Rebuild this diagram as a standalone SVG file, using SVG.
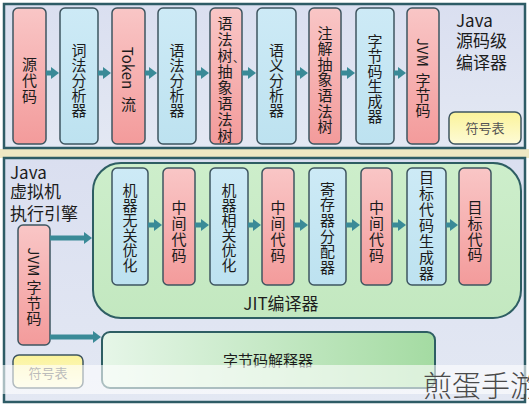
<svg xmlns="http://www.w3.org/2000/svg" width="529" height="406" viewBox="0 0 529 406">
<defs>
<linearGradient id="gPink" x1="0" y1="0" x2="0" y2="1"><stop offset="0" stop-color="#f9c6c6"/><stop offset="1" stop-color="#f39b9b"/></linearGradient>
<linearGradient id="gBlue" x1="0" y1="0" x2="0" y2="1"><stop offset="0" stop-color="#cdeaf6"/><stop offset="1" stop-color="#bde2f0"/></linearGradient>
<linearGradient id="gPanel" x1="0" y1="0" x2="0" y2="1"><stop offset="0" stop-color="#dadff0"/><stop offset="1" stop-color="#e3e8f3"/></linearGradient>
<linearGradient id="gYellow" x1="0" y1="0" x2="0" y2="1"><stop offset="0" stop-color="#fbf39a"/><stop offset="1" stop-color="#fdfbd6"/></linearGradient>
<linearGradient id="gJit" x1="0" y1="0" x2="0" y2="1"><stop offset="0" stop-color="#cdeecb"/><stop offset="1" stop-color="#c3e8c0"/></linearGradient>
<linearGradient id="gInterp" x1="0" y1="0" x2="1" y2="0"><stop offset="0" stop-color="#e6f6e8"/><stop offset="1" stop-color="#a4dba2"/></linearGradient>
<marker id="ah" markerUnits="userSpaceOnUse" markerWidth="9" markerHeight="12" refX="2" refY="6" orient="auto"><path d="M0,0 L8,6 L0,12 Z" fill="#3a8a97"/></marker>
<style>
.pink{fill:url(#gPink);stroke:#3e5560;stroke-width:1.5}
.blue{fill:url(#gBlue);stroke:#3e5560;stroke-width:1.5}
.panel{fill:url(#gPanel);stroke:#2e5c66;stroke-width:2.5}
.yel{fill:url(#gYellow);stroke:#3e5560;stroke-width:1.5}
.t{font-family:"Noto Sans CJK SC","Noto Sans",sans-serif;font-size:15px;fill:#1c1c1c;text-anchor:middle}
.v{font-family:"Noto Sans CJK SC","Noto Sans",sans-serif;font-size:15px;fill:#1c1c1c;writing-mode:vertical-rl;text-anchor:middle}
.tl{font-family:"Noto Sans CJK SC","Noto Sans",sans-serif;font-size:17px;fill:#1c1c1c}
.small{font-family:"Noto Sans CJK SC","Noto Sans",sans-serif;font-size:13px;fill:#555;text-anchor:middle}
.arr{stroke:#3a8a97;stroke-width:5;fill:none;marker-end:url(#ah)}
</style>
</defs>
<rect x="0" y="0" width="529" height="406" fill="#ffffff"/>
<rect x="0" y="149" width="529" height="9" fill="#efe7c3"/>

<g id="panel-compiler">
<rect class="panel" x="4" y="4" width="521" height="144"/>
<text class="tl" x="456" y="27">Java</text>
<text class="tl" x="456" y="47" font-size="16">源码级</text>
<text class="tl" x="456" y="69" font-size="16">编译器</text>
</g>

<g id="panel-engine">
<rect class="panel" x="4" y="158" width="521" height="244"/>
<text class="tl" x="10" y="179">Java</text>
<text class="tl" x="10" y="198">虚拟机</text>
<text class="tl" x="10" y="220">执行引擎</text>
</g>

<g id="src">
<rect class="pink" x="13" y="8" width="33" height="136" rx="5"/>
<text class="v" x="29.5" y="81" font-size="16.5" letter-spacing="1">源代码</text>
</g>
<g id="lexer">
<rect class="blue" x="60" y="8" width="38" height="136" rx="5"/>
<text class="v" x="79" y="80.5">词法分析器</text>
</g>
<g id="token">
<rect class="pink" x="112" y="8" width="33" height="136" rx="5"/>
<text class="v" x="128.5" y="68">Token</text>
<text class="v" x="128.5" y="104.5">流</text>
</g>
<g id="parser">
<rect class="blue" x="158" y="8" width="38" height="136" rx="5"/>
<text class="v" x="177" y="80.5">语法分析器</text>
</g>
<g id="ast">
<rect class="pink" x="210" y="8" width="32" height="136" rx="5"/>
<text class="v" x="225" y="79.5" letter-spacing="1">语法树抽象语法树</text>
<text x="233" y="62" font-family="'Noto Sans CJK SC',sans-serif" font-size="11" fill="#1c1c1c">、</text>
</g>
<g id="semantic">
<rect class="blue" x="257" y="8" width="39" height="136" rx="5"/>
<text class="v" x="276.5" y="80.5">语义分析器</text>
</g>
<g id="annotated-ast">
<rect class="pink" x="309" y="8" width="32" height="136" rx="5"/>
<text class="v" x="325" y="80" letter-spacing="0.6">注解抽象语法树</text>
</g>
<g id="codegen">
<rect class="blue" x="356" y="8" width="38" height="136" rx="5"/>
<text class="v" x="375" y="79">字节码生成器</text>
</g>
<g id="bytecode-top">
<rect class="pink" x="407" y="8" width="32" height="136" rx="5"/>
<text class="v" x="423" y="52.5">JVM</text>
<text class="v" x="423" y="95">字节码</text>
</g>
<g id="symtab-top">
<rect class="yel" x="449" y="112" width="72" height="32" rx="6"/>
<text class="small" x="485" y="133">符号表</text>
</g>

<g id="jit">
<rect x="93" y="163" width="428" height="155" rx="28" fill="url(#gJit)" stroke="#2e5e63" stroke-width="2"/>
<text class="tl" x="281" y="310" text-anchor="middle">JIT编译器</text>
</g>
<g id="opt-indep">
<rect class="blue" x="112" y="168" width="36" height="117" rx="5"/>
<text class="v" x="130" y="228">机器无关优化</text>
</g>
<g id="ir1">
<rect class="pink" x="163" y="168" width="32" height="117" rx="5"/>
<text class="v" x="179" y="232" letter-spacing="1.2">中间代码</text>
</g>
<g id="opt-dep">
<rect class="blue" x="210" y="168" width="38" height="117" rx="5"/>
<text class="v" x="229" y="228">机器相关优化</text>
</g>
<g id="ir2">
<rect class="pink" x="262" y="168" width="32" height="117" rx="5"/>
<text class="v" x="278" y="232" letter-spacing="1.2">中间代码</text>
</g>
<g id="regalloc">
<rect class="blue" x="309" y="168" width="37" height="117" rx="5"/>
<text class="v" x="327.5" y="228.5" letter-spacing="0.6">寄存器分配器</text>
</g>
<g id="ir3">
<rect class="pink" x="361" y="168" width="31" height="117" rx="5"/>
<text class="v" x="376.5" y="232" letter-spacing="1.2">中间代码</text>
</g>
<g id="target-gen">
<rect class="blue" x="407" y="168" width="39" height="117" rx="5"/>
<text class="v" x="426.5" y="225.5" letter-spacing="1">目标代码生成器</text>
</g>
<g id="target-code">
<rect class="pink" x="459" y="168" width="32" height="117" rx="5"/>
<text class="v" x="475" y="231.5" letter-spacing="0.8">目标代码</text>
</g>

<g id="bytecode-bottom">
<rect class="pink" x="18" y="225" width="32" height="120" rx="5"/>
<text class="v" x="34" y="262">JVM</text>
<text class="v" x="34" y="303.5" letter-spacing="0.5">字节码</text>
</g>
<g id="interpreter">
<rect x="102" y="332" width="333" height="56" rx="8" fill="url(#gInterp)" stroke="#2e5e63" stroke-width="2"/>
<text class="t" x="268" y="366">字节码解释器</text>
</g>
<g id="symtab-bottom">
<rect class="yel" x="13" y="355" width="70" height="33" rx="6"/>
<text class="small" x="48" y="378">符号表</text>
</g>

<g id="connectors">
<line class="arr" x1="46" y1="73" x2="53" y2="73"/>
<line class="arr" x1="98" y1="73" x2="105" y2="73"/>
<line class="arr" x1="145" y1="73" x2="151" y2="73"/>
<line class="arr" x1="196" y1="73" x2="203" y2="73"/>
<line class="arr" x1="242" y1="73" x2="250" y2="73"/>
<line class="arr" x1="296" y1="73" x2="302" y2="73"/>
<line class="arr" x1="341" y1="73" x2="349" y2="73"/>
<line class="arr" x1="394" y1="73" x2="400" y2="73"/>
<line class="arr" x1="148" y1="225" x2="156" y2="225"/>
<line class="arr" x1="195" y1="225" x2="203" y2="225"/>
<line class="arr" x1="248" y1="225" x2="255" y2="225"/>
<line class="arr" x1="294" y1="225" x2="302" y2="225"/>
<line class="arr" x1="346" y1="225" x2="354" y2="225"/>
<line class="arr" x1="392" y1="225" x2="400" y2="225"/>
<line class="arr" x1="446" y1="225" x2="452" y2="225"/>
<line class="arr" x1="50" y1="238" x2="86" y2="238"/>
<line class="arr" x1="50" y1="337" x2="95" y2="337"/>
</g>

<g id="watermark">
<rect x="0" y="365" width="529" height="29" fill="#ffffff" fill-opacity="0.6"/>
<text x="423" y="397" font-family="'Noto Sans CJK SC',sans-serif" font-size="29" font-weight="300" fill="#4a4a4a">煎蛋手游</text>
</g>
</svg>
